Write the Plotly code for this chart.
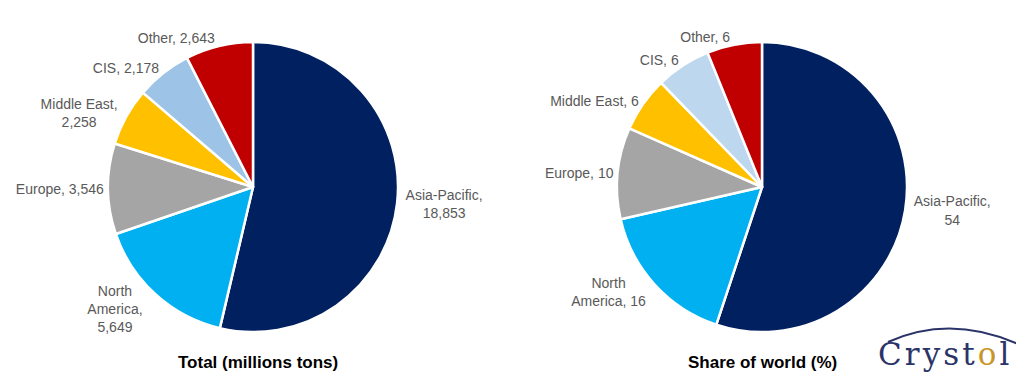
import plotly.graph_objects as go

regions = ["Asia-Pacific", "North America", "Europe", "Middle East", "CIS", "Other"]
total_mt = [18853, 5649, 3546, 2258, 2178, 2643]
share_pct = [54, 16, 10, 6, 6, 6]

total_text = ["Asia-Pacific,<br>18,853", "North<br>America,<br>5,649", "Europe, 3,546",
              "Middle East,<br>2,258", "CIS, 2,178", "Other, 2,643"]
share_text = ["Asia-Pacific,<br>54", "North<br>America, 16", "Europe, 10",
              "Middle East, 6", "CIS, 6", "Other, 6"]

colors_left = ["#002060", "#00B0F0", "#A5A5A5", "#FFC000", "#9DC3E6", "#C00000"]
colors_right = ["#002060", "#00B0F0", "#A5A5A5", "#FFC000", "#BDD7EE", "#C00000"]

W, H = 1024, 378
font = dict(family="Liberation Sans, Arial, sans-serif", size=14, color="#595959")

fig = go.Figure()
fig.add_trace(go.Pie(
    labels=regions, values=total_mt, text=total_text, textinfo="text",
    textposition="outside", sort=False, direction="clockwise", rotation=0,
    marker=dict(colors=colors_left, line=dict(color="white", width=2.5)),
    domain=dict(x=[100 / W, 390 / W], y=[1 - 325 / H, 1 - 33 / H]),
    outsidetextfont=font, showlegend=False, hoverinfo="label+value",
))
fig.add_trace(go.Pie(
    labels=regions, values=share_pct, text=share_text, textinfo="text",
    textposition="outside", sort=False, direction="clockwise", rotation=0,
    marker=dict(colors=colors_right, line=dict(color="white", width=2.5)),
    domain=dict(x=[609 / W, 899 / W], y=[1 - 325 / H, 1 - 33 / H]),
    outsidetextfont=font, showlegend=False, hoverinfo="label+value",
))

title_font = dict(family="Liberation Sans, Arial, sans-serif", size=17, color="#000000")
fig.add_annotation(x=250 / W, y=1 - 354 / H, xref="paper", yref="paper",
                   xanchor="center", yanchor="middle",
                   text="<b>Total (millions tons)</b>", showarrow=False, font=title_font)
fig.add_annotation(x=754 / W, y=1 - 354 / H, xref="paper", yref="paper",
                   xanchor="center", yanchor="middle",
                   text="<b>Share of world (%)</b>", showarrow=False, font=title_font)

# logo
ts = "\u200a"
fig.add_annotation(x=936 / W, y=1 - 346 / H, xref="paper", yref="paper",
                   xanchor="center", yanchor="middle",
                   text=f"C{ts}r{ts}y{ts}s{ts}t{ts}<span style='color:#C8962A'>o</span>{ts}l",
                   showarrow=False,
                   font=dict(family="DejaVu Serif, serif", size=31, color="#2B3468"))
fig.add_shape(type="path", xref="paper", yref="paper",
              path=f"M {880/W},{1-334/H} Q {942/W},{1-306/H} {1010/W},{1-336/H}",
              line=dict(color="#2B3468", width=2))

fig.update_layout(width=W, height=H, margin=dict(l=0, r=0, t=0, b=0),
                  paper_bgcolor="white", plot_bgcolor="white")
fig.write_html("out.html")
